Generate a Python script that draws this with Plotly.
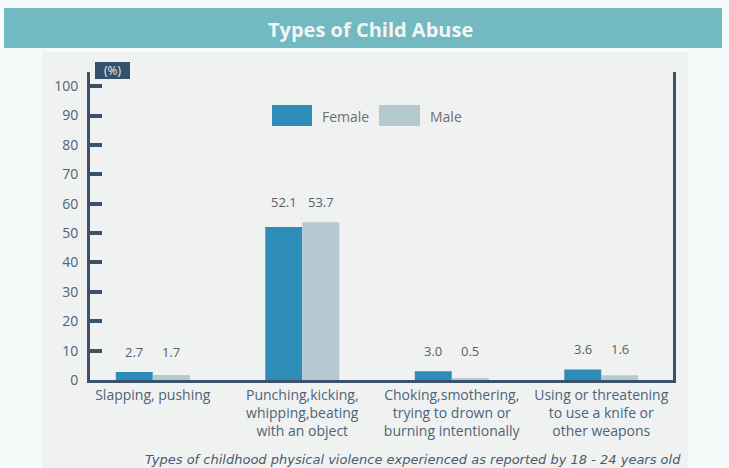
import plotly.graph_objects as go

categories = [
    "Slapping, pushing",
    "Punching,kicking,<br>whipping,beating<br>with an object",
    "Choking,smothering,<br>trying to drown or<br>burning intentionally",
    "Using or threatening<br>to use a knife or<br>other weapons",
]
female = [2.7, 52.1, 3.0, 3.6]
male = [1.7, 53.7, 0.5, 1.6]
female_labels = ["2.7", "52.1", "3.0", "3.6"]
male_labels = ["1.7", "53.7", "0.5", "1.6"]
y_ticks = [0, 10, 20, 30, 40, 50, 60, 70, 80, 90, 100]

FEMALE_C = "#2e8db8"
MALE_C = "#b5c9d1"
AXIS_C = "#3b536a"
TEXT_C = "#4e6378"
FONT = "Open Sans"

fig = go.Figure()
fig.add_bar(x=categories, y=female, name="Female", marker_color=FEMALE_C,
            marker_line_width=0, showlegend=False)
fig.add_bar(x=categories, y=male, name="Male", marker_color=MALE_C,
            marker_line_width=0, showlegend=False)

annotations = []
for c, f, m, fl, ml in zip(categories, female, male, female_labels, male_labels):
    top = max(f, m)
    annotations.append(dict(x=c, y=top, xref="x", yref="y", text=fl, showarrow=False,
                            yanchor="bottom", xshift=-18.5, yshift=9,
                            font=dict(family=FONT, size=13, color="#56616c")))
    annotations.append(dict(x=c, y=top, xref="x", yref="y", text=ml, showarrow=False,
                            yanchor="bottom", xshift=18.5, yshift=9,
                            font=dict(family=FONT, size=13, color="#56616c")))

# px -> paper helpers (plot area 90..673 x, 72..380 y)
def px(x):
    return (x - 90) / 583.0

def py(y):
    return (380 - y) / 308.0

shapes = [
    dict(type="rect", xref="paper", yref="paper", x0=px(42), x1=px(688), y0=py(468), y1=py(52),
         fillcolor="#f0f2f2", line_width=0, layer="below"),
    dict(type="rect", xref="paper", yref="paper", x0=px(4), x1=px(722), y0=py(48), y1=py(8),
         fillcolor="#72b9c2", line_width=0, layer="below"),
    dict(type="rect", xref="paper", yref="paper", x0=px(272), x1=px(312), y0=py(126), y1=py(105),
         fillcolor=FEMALE_C, line_width=0),
    dict(type="rect", xref="paper", yref="paper", x0=px(379), x1=px(420), y0=py(126), y1=py(105),
         fillcolor=MALE_C, line_width=0),
    # "(%)" box
    dict(type="rect", xref="paper", yref="paper", x0=px(95), x1=px(130), y0=py(79), y1=py(62),
         fillcolor="#34506a", line_width=0),
]

annotations += [
    dict(xref="paper", yref="paper", x=px(370), y=py(29), text="<b>Types of Child Abuse</b>",
         showarrow=False, font=dict(family=FONT, size=20, color="#f2f5f5"),
         xanchor="center", yanchor="middle"),
    dict(xref="paper", yref="paper", x=px(320), y=py(116), text="Female", showarrow=False,
         xanchor="left", yanchor="middle", font=dict(family=FONT, size=14, color="#6e6e6e")),
    dict(xref="paper", yref="paper", x=px(428), y=py(116), text="Male", showarrow=False,
         xanchor="left", yanchor="middle", font=dict(family=FONT, size=14, color="#6e6e6e")),
    dict(xref="paper", yref="paper", x=px(112.5), y=py(70.5), text="(%)", showarrow=False,
         xanchor="center", yanchor="middle",
         font=dict(family=FONT, size=12, color="#e8eef2")),
    dict(xref="paper", yref="paper", x=px(683), y=py(459),
         text="<i>Types of childhood physical violence experienced as reported by 18 - 24 years old</i>",
         showarrow=False, xanchor="right", yanchor="middle",
         font=dict(family="DejaVu Sans", size=13, color="#4a5a6a")),
]

fig.update_layout(
    width=729, height=468,
    margin=dict(l=90, r=56, t=72, b=88),
    paper_bgcolor="#f5fbfb",
    plot_bgcolor="rgba(0,0,0,0)",
    barmode="group",
    bargap=0.505,
    bargroupgap=0,
    shapes=shapes,
    annotations=annotations,
    font=dict(family=FONT, color=TEXT_C),
    xaxis=dict(type="category", range=[-0.42, 3.48], showline=True, linecolor=AXIS_C,
               linewidth=3, ticks="", showgrid=False, zeroline=False,
               tickfont=dict(family=FONT, size=14, color=TEXT_C)),
    yaxis=dict(range=[0, 104.8], tickvals=y_ticks, showline=True, linecolor=AXIS_C,
               linewidth=3, mirror=True, ticks="inside", ticklen=12, tickwidth=4,
               tickcolor=AXIS_C, showgrid=False, zeroline=False, ticklabelstandoff=6,
               tickfont=dict(family=FONT, size=14, color=TEXT_C)),
)

fig.write_html("out.html", config={"displayModeBar": False},
               post_script="document.body.style.margin='0';document.body.style.background='#f5fbfb';")
